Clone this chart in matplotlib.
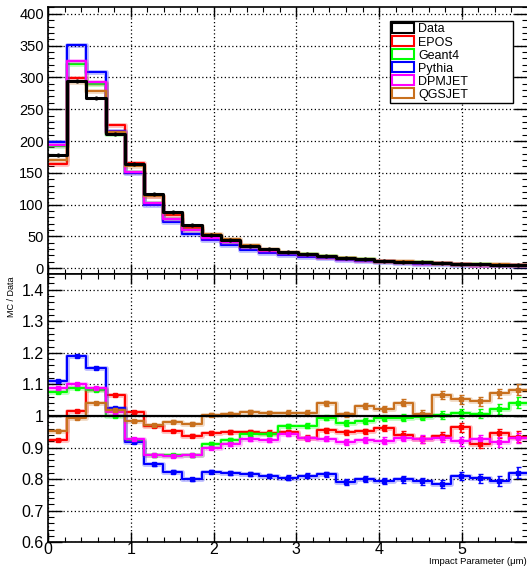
import numpy as np
import matplotlib.pyplot as plt
from matplotlib.patches import Patch
from matplotlib.ticker import MultipleLocator, FuncFormatter

plt.rcParams['font.family'] = ['Liberation Sans', 'DejaVu Sans']

# 25 bins of impact parameter, 0 - 5.8 um
bin_edges = np.linspace(0.0, 5.8, 26)

# measured counts (Data)
data_counts = [178, 295, 268, 211, 164, 117, 88, 68, 53, 45, 35.6, 30, 25.2,
               22.3, 18.9, 16.6, 14.2, 11.8, 10.4, 9.3, 8.0, 7.0, 6.3, 5.7, 4.8]

# MC / Data ratios
ratio_epos = [0.924, 1.015, 1.087, 1.067, 1.013, 0.968, 0.952, 0.938, 0.947, 0.949,
              0.950, 0.947, 0.949, 0.931, 0.955, 0.948, 0.951, 0.961, 0.940, 0.926,
              0.937, 0.964, 0.912, 0.945, 0.934]
ratio_geant4 = [1.077, 1.088, 1.082, 1.000, 0.924, 0.875, 0.875, 0.876, 0.912, 0.924,
                0.942, 0.942, 0.968, 0.969, 0.995, 0.977, 0.985, 0.993, 0.995, 0.998,
                1.003, 1.009, 1.007, 1.022, 1.042]
ratio_pythia = [1.111, 1.190, 1.153, 1.026, 0.917, 0.847, 0.824, 0.800, 0.824, 0.820,
                0.817, 0.810, 0.805, 0.810, 0.815, 0.790, 0.800, 0.795, 0.800, 0.793,
                0.785, 0.810, 0.802, 0.794, 0.820]
ratio_dpmjet = [1.090, 1.102, 1.090, 1.012, 0.926, 0.877, 0.874, 0.876, 0.900, 0.911,
                0.927, 0.924, 0.942, 0.930, 0.928, 0.917, 0.924, 0.922, 0.931, 0.927,
                0.929, 0.920, 0.926, 0.917, 0.930]
ratio_qgsjet = [0.953, 0.993, 1.040, 1.018, 0.984, 0.970, 0.982, 0.976, 1.004, 1.007,
                1.014, 1.010, 1.011, 1.010, 1.040, 1.005, 1.032, 1.022, 1.042, 1.007,
                1.067, 1.053, 1.047, 1.072, 1.083]

# statistical error on the ratio
ratio_err = [0.003, 0.003, 0.003, 0.003, 0.003, 0.004, 0.004, 0.005, 0.005, 0.006,
             0.006, 0.007, 0.007, 0.008, 0.008, 0.009, 0.009, 0.010, 0.011, 0.012,
             0.013, 0.014, 0.014, 0.015, 0.017]

models = ['EPOS', 'Geant4', 'Pythia', 'DPMJET', 'QGSJET']
ratios = [ratio_epos, ratio_geant4, ratio_pythia, ratio_dpmjet, ratio_qgsjet]
colors = ['#ff0000', '#00ff00', '#0000ff', '#ff00ff', '#c8701e']


def step_vals(vals):
    # repeat last value so 'post' steps close the final bin
    vals = np.asarray(vals, dtype=float)
    return np.append(vals, vals[-1])


def style_axis(ax):
    ax.tick_params(which='both', direction='in', top=True, right=True)
    ax.tick_params(which='major', length=10, width=1)
    ax.tick_params(which='minor', length=4.5, width=0.8)
    ax.tick_params(axis='x', which='major', length=7)
    ax.tick_params(axis='x', which='minor', length=3.5)
    ax.xaxis.set_major_locator(MultipleLocator(1))
    ax.xaxis.set_minor_locator(MultipleLocator(0.2))
    ax.grid(True, which='major', linestyle=(0, (1, 2)), color='black', linewidth=0.9)
    for sp in ax.spines.values():
        sp.set_linewidth(1.2)


fig = plt.figure(figsize=(5.27, 5.66), dpi=100)
ax1 = fig.add_axes([0.091, 0.516, 0.911, 0.472])
ax2 = fig.add_axes([0.091, 0.042, 0.911, 0.474])

centers = 0.5 * (bin_edges[:-1] + bin_edges[1:])
data = np.array(data_counts)

# --- upper panel: distributions
for name, r, c in zip(models, ratios, colors):
    mc = data * np.array(r)
    ax1.step(bin_edges, step_vals(mc), where='post', color=c, lw=3.5, alpha=0.25)
    ax1.step(bin_edges, step_vals(mc), where='post', color=c, lw=1.5)
ax1.step(bin_edges, step_vals(data), where='post', color='black', lw=2.2)
ax1.errorbar(centers, data, yerr=data * np.array(ratio_err), fmt='o', ms=2,
             color='black', elinewidth=1, capsize=0)

ax1.set_xlim(0, 5.8)
ax1.set_ylim(-9, 411)
style_axis(ax1)
ax1.yaxis.set_major_locator(MultipleLocator(50))
ax1.yaxis.set_minor_locator(MultipleLocator(10))
ax1.tick_params(axis='y', labelsize=10.5, pad=3)
ax1.tick_params(axis='x', labelbottom=False)

handles = [Patch(facecolor='white', edgecolor='black', lw=1.5, label='Data')]
handles += [Patch(facecolor='white', edgecolor=c, lw=1.5, label=n)
            for n, c in zip(models, colors)]
# fixed-size box like a ROOT TLegend
leg = ax1.legend(handles=handles, loc='upper left',
                 bbox_to_anchor=(0.712, 0.648, 0.257, 0.300), mode='expand',
                 fontsize=9, frameon=True, fancybox=False, framealpha=1,
                 edgecolor='black', borderpad=0.2, labelspacing=0.06,
                 handlelength=1.7, handleheight=0.85, handletextpad=0.35,
                 borderaxespad=0)
leg.get_frame().set_linewidth(1.0)

# --- lower panel: MC / Data
for name, r, c in zip(models, ratios, colors):
    ax2.step(bin_edges, step_vals(r), where='post', color=c, lw=3.5, alpha=0.25)
    ax2.step(bin_edges, step_vals(r), where='post', color=c, lw=1.5)
    ax2.errorbar(centers, r, yerr=ratio_err, fmt='s', ms=2.5, color=c,
                 elinewidth=1.2, capsize=1.8, capthick=1)
ax2.axhline(1.0, color='black', lw=1.6, zorder=5)

ax2.set_xlim(0, 5.8)
ax2.set_ylim(0.6, 1.45)
style_axis(ax2)
ax2.yaxis.set_major_locator(MultipleLocator(0.1))
ax2.yaxis.set_minor_locator(MultipleLocator(0.02))
ax2.yaxis.set_major_formatter(FuncFormatter(lambda v, p: '%g' % round(v, 2)))
ax2.tick_params(axis='both', labelsize=11.5)
ax2.tick_params(axis='y', pad=3)
ax2.tick_params(axis='x', pad=0)

fig.text(0.021, 1 - 297 / 566, 'MC / Data', rotation=90, va='center', ha='center',
         fontsize=6.5)
fig.text(0.999, 1 - 561.5 / 566, 'Impact Parameter (\u03bcm)', ha='right',
         va='center', fontsize=6.8)

fig.savefig('out.png', dpi=100)
